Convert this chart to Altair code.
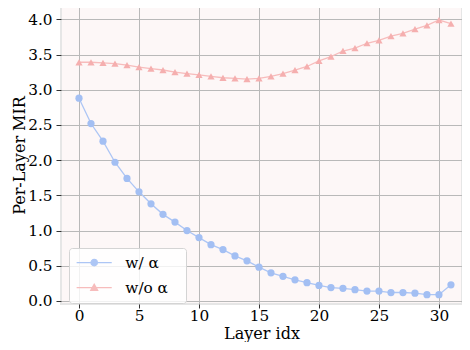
import altair as alt
import pandas as pd

layers = list(range(32))
series_names = ["w/ α", "w/o α"]
w_alpha = [2.88, 2.52, 2.27, 1.97, 1.74, 1.55, 1.38, 1.23, 1.12, 1.00, 0.90, 0.80,
           0.73, 0.64, 0.57, 0.48, 0.40, 0.35, 0.30, 0.26, 0.22, 0.19, 0.18, 0.16,
           0.14, 0.14, 0.12, 0.12, 0.11, 0.09, 0.09, 0.23]
wo_alpha = [3.39, 3.39, 3.38, 3.37, 3.35, 3.32, 3.30, 3.28, 3.25, 3.23, 3.21, 3.19,
            3.17, 3.16, 3.15, 3.16, 3.19, 3.23, 3.28, 3.33, 3.41, 3.47, 3.55, 3.59,
            3.66, 3.70, 3.76, 3.80, 3.86, 3.915, 3.99, 3.94]
x_ticks = [0, 5, 10, 15, 20, 25, 30]
y_ticks = [0.0, 0.5, 1.0, 1.5, 2.0, 2.5, 3.0, 3.5, 4.0]

rows = []
for name, vals in zip(series_names, [w_alpha, wo_alpha]):
    for l, v in zip(layers, vals):
        rows.append({"layer": l, "mir": v, "series": name})
df = pd.DataFrame(rows)

line_colors = ["#adc6f5", "#f7bcbc"]
marker_colors = ["#a3bff3", "#f5afaf"]

# legend symbols: line segment with marker in the middle
circle_path = "M-1.2,0L4.8,0M1.25,0A0.55,0.55 0 1 1 2.35,0A0.55,0.55 0 1 1 1.25,0Z"
tri_path = "M-1.2,0L4.8,0M1.8,-0.6L2.4,0.45L1.2,0.45Z"

FONT = "DejaVu Serif"
FS = 15.3
TFS = 16.0

x_enc = alt.X("layer:Q", scale=alt.Scale(domain=[-1.5, 31.92], nice=False, zero=False),
              axis=alt.Axis(values=x_ticks, title="Layer idx", format="d"))
y_enc = alt.Y("mir:Q", scale=alt.Scale(domain=[-0.043, 4.189], nice=False, zero=False),
              axis=alt.Axis(values=y_ticks, title="Per-Layer MIR", format=".1f"))

base = alt.Chart(df)

lines = base.mark_line(strokeWidth=1.3).encode(
    x=x_enc, y=y_enc,
    color=alt.Color("series:N", scale=alt.Scale(domain=series_names, range=line_colors), legend=None),
    detail="series:N",
)

points = base.mark_point(filled=True, opacity=1, size=52).encode(
    x=x_enc, y=y_enc,
    color=alt.Color("series:N", scale=alt.Scale(domain=series_names, range=marker_colors), legend=None),
    shape=alt.Shape("series:N", scale=alt.Scale(domain=series_names, range=["circle", "triangle-up"]), legend=None),
)

leg = alt.Legend(
    title="x", titleOrient="right", titleColor="rgba(0,0,0,0)", titleFontSize=8, titlePadding=6,
    orient="none", legendX=8, legendY=242,
    symbolSize=137, symbolStrokeWidth=1.2, symbolOpacity=1,
    labelFont=FONT, labelFontSize=FS, labelColor="black", labelOffset=34,
    padding=7, rowPadding=9, fillColor="rgba(255,255,255,0.8)", strokeColor="#d4d4d4",
    cornerRadius=3,
)

legend_layer = base.mark_point(filled=True, opacity=0, size=0).encode(
    x=x_enc, y=y_enc,
    fill=alt.Fill("series:N", scale=alt.Scale(domain=series_names, range=line_colors), legend=leg),
    stroke=alt.Stroke("series:N", scale=alt.Scale(domain=series_names, range=line_colors), legend=leg),
    shape=alt.Shape("series:N", scale=alt.Scale(domain=series_names, range=[circle_path, tri_path]), legend=leg),
)

chart = alt.layer(lines, points, legend_layer).resolve_scale(
    color="independent", shape="independent", fill="independent", stroke="independent"
).properties(
    width=401, height=298,
    autosize=alt.AutoSizeParams(type="none"),
    padding={"left": 53, "top": -2, "right": 0, "bottom": 38},
).configure_view(
    fill="#fdf7f7", stroke="#e6e6e6", strokeWidth=2,
).configure_axis(
    gridColor="#b9b9b9", gridWidth=1, domain=False,
    tickColor="#333333", tickWidth=1,
    labelFont=FONT, labelFontSize=FS, labelColor="black",
    titleFont=FONT, titleFontSize=TFS, titleFontWeight="normal", titleColor="black",
).configure_axisY(titlePadding=0.5, labelPadding=4, tickSize=5).configure_axisX(
    titlePadding=2, labelPadding=0, tickSize=4)

chart.save("out.html", embed_options={"renderer": "svg", "actions": False})
